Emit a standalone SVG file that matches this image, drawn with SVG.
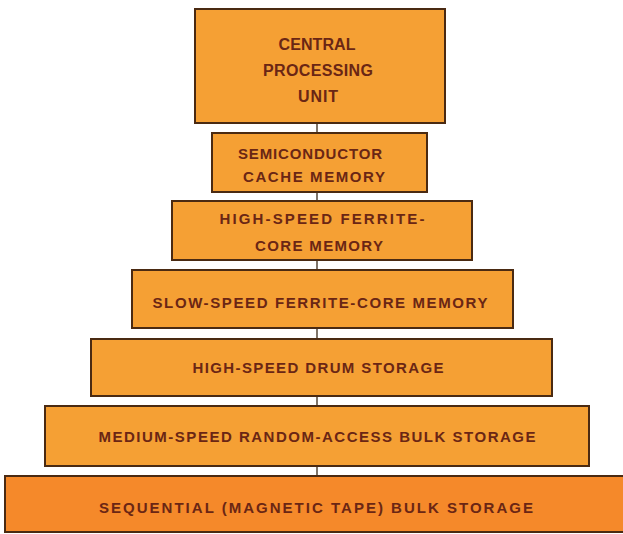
<svg xmlns="http://www.w3.org/2000/svg" width="623" height="534" viewBox="0 0 623 534">
<style>
.box{fill:#F5A034;stroke:#4a2a12;stroke-width:2}
.box2{fill:#F5892A;stroke:#4a2a12;stroke-width:2}
.lbl{font-family:"Liberation Sans",Arial,sans-serif;font-size:15px;font-weight:bold;fill:#6a2614;text-anchor:middle}
.big{font-size:16px}
.conn{stroke:#3a2a1a;stroke-width:1.3;fill:none}
</style>
<rect width="623" height="534" fill="#ffffff"/>
<g id="connectors">
<line class="conn" x1="317" y1="123" x2="317" y2="133"/>
<line class="conn" x1="317" y1="192" x2="317" y2="201"/>
<line class="conn" x1="317" y1="260" x2="317" y2="270"/>
<line class="conn" x1="317" y1="328" x2="317" y2="339"/>
<line class="conn" x1="317" y1="396" x2="317" y2="406"/>
<line class="conn" x1="317" y1="466" x2="317" y2="476"/>
</g>
<g id="cpu">
<rect class="box" x="195" y="9" width="250" height="114"/>
<text class="lbl big" x="317" y="50" textLength="77" lengthAdjust="spacing">CENTRAL</text>
<text class="lbl big" x="318" y="76" textLength="110" lengthAdjust="spacing">PROCESSING</text>
<text class="lbl big" x="318" y="102" textLength="40" lengthAdjust="spacing">UNIT</text>
</g>
<g id="cache">
<rect class="box" x="212" y="133" width="215" height="59"/>
<text class="lbl" x="310" y="159" textLength="144" lengthAdjust="spacing">SEMICONDUCTOR</text>
<text class="lbl" x="314" y="182" textLength="142" lengthAdjust="spacing">CACHE MEMORY</text>
</g>
<g id="hs-core">
<rect class="box" x="172" y="201" width="300" height="59"/>
<text class="lbl" x="322" y="224" textLength="205" lengthAdjust="spacing">HIGH-SPEED FERRITE-</text>
<text class="lbl" x="319" y="251" textLength="128" lengthAdjust="spacing">CORE MEMORY</text>
</g>
<g id="ss-core">
<rect class="box" x="132" y="270" width="381" height="58"/>
<text class="lbl" x="320" y="308" textLength="335" lengthAdjust="spacing">SLOW-SPEED FERRITE-CORE MEMORY</text>
</g>
<g id="drum">
<rect class="box" x="91" y="339" width="461" height="57"/>
<text class="lbl" x="318" y="373" textLength="251" lengthAdjust="spacing">HIGH-SPEED DRUM STORAGE</text>
</g>
<g id="random-bulk">
<rect class="box" x="45" y="406" width="544" height="60"/>
<text class="lbl" x="317" y="442" textLength="437" lengthAdjust="spacing">MEDIUM-SPEED RANDOM-ACCESS BULK STORAGE</text>
</g>
<g id="tape-bulk">
<rect class="box2" x="5" y="476" width="622" height="56"/>
<text class="lbl" x="316" y="513" textLength="434" lengthAdjust="spacing">SEQUENTIAL (MAGNETIC TAPE) BULK STORAGE</text>
</g>
</svg>
